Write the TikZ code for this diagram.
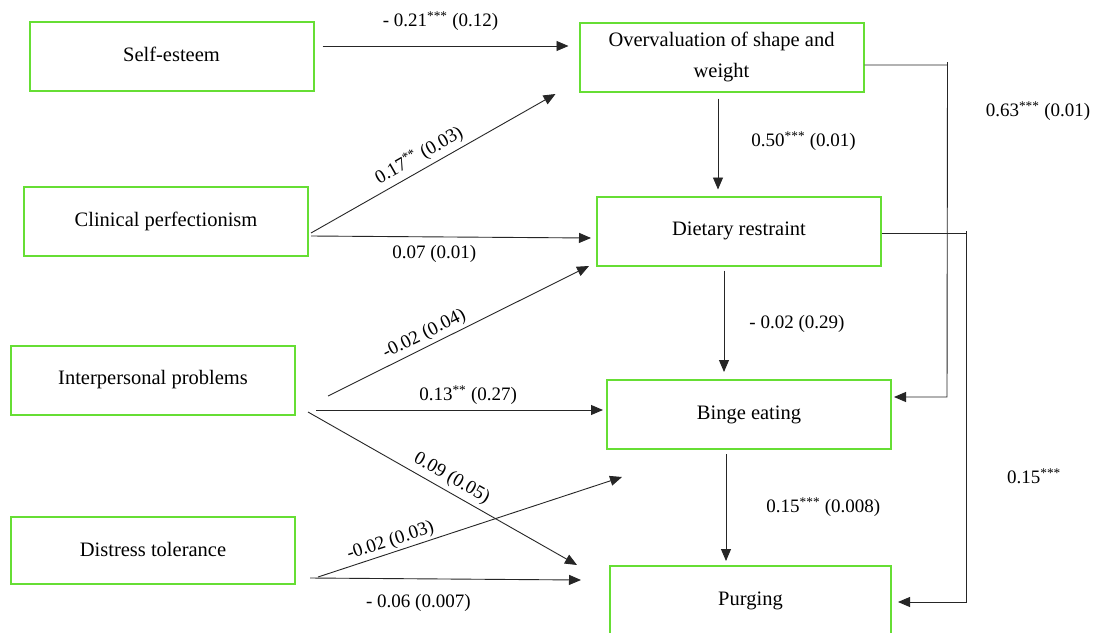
\documentclass[tikz,border=0pt]{standalone}
\usepackage{fontspec}
\setmainfont{Liberation Serif}
\usetikzlibrary{arrows.meta,calc}
\definecolor{boxgreen}{RGB}{102,222,52}
\begin{document}
\begin{tikzpicture}[x=1pt,y=-1pt,
  box/.style={draw=boxgreen, line width=2pt, minimum width=284pt, minimum height=69pt, inner sep=0pt, font=\fontsize{20.5}{24}\selectfont, align=center},
  arr/.style={-{Triangle[length=12pt,width=10pt]}, line width=0.9pt, draw=black!85},
  lbl/.style={font=\fontsize{19}{22}\selectfont, inner sep=1pt}]
\useasboundingbox (0,0) rectangle (1094,632);
\fill[white] (0,0) rectangle (1094,632);
% boxes
\node[box] (se) at (171.5,56) {\raisebox{3pt}{Self-esteem}};
\node[box] (cp) at (166,221) {\raisebox{2pt}{Clinical perfectionism}};
\node[box] (ip) at (153,380) {\raisebox{2pt}{Interpersonal problems}};
\node[box, minimum height=67pt] (dt) at (153,550) {\raisebox{2pt}{Distress tolerance}};
\node[box, font=\fontsize{20.5}{31}\selectfont] (ov) at (721.5,57) {Overvaluation of shape and\\weight};
\node[box] (dr) at (739,231) {\raisebox{2pt}{Dietary restraint}};
\node[box] (be) at (749,414.5) {\raisebox{3pt}{Binge eating}};
\node[box, minimum width=281pt, minimum height=70pt] (pu) at (750.5,601) {\raisebox{2pt}{Purging}};
% free ends
\coordinate (dtend) at (622,477);
% arrows
\draw[arr] ([xshift=8pt,yshift=10pt]se.east) -- node[lbl, pos=0.48, above=14pt] {- 0.21\textsuperscript{***} (0.12)} ([xshift=-10pt,yshift=11pt]ov.west);
\draw[arr] ([xshift=2pt,yshift=-12pt]cp.east) -- node[lbl, pos=0.47, sloped, above=3pt] {0.17\textsuperscript{**} (0.03)} ([xshift=-23pt,yshift=-37pt]ov.west);
\draw[arr] ([xshift=2pt,yshift=-15pt]cp.east) -- node[lbl, pos=0.44, below=7pt] {0.07 (0.01)} ([xshift=-5pt,yshift=-7pt]dr.west);
\draw[arr] ([xshift=-3.5pt,yshift=-6pt]ov.south) -- node[lbl, pos=0.47, anchor=west, xshift=32pt] {0.50\textsuperscript{***} (0.01)} ([xshift=-21pt,yshift=6pt]dr.north);
\draw[arr] ([yshift=-8pt]ov.east) -- ++(83,0) -- ($(be.east)+(55,-17.5)$) -- ([xshift=2pt,yshift=17.5pt]be.east);
\draw[line width=0.9pt, draw=black!85] ([xshift=83pt,yshift=-8pt]ov.east) -- ++(0,-3);
\node[lbl] (l63) at (1038,111) {0.63\textsuperscript{***} (0.01)};
\draw[arr] ([yshift=-2pt]dr.east) -- ++(84,0) -- ($(pu.east)+(74,1)$) -- ([xshift=6pt,yshift=-1pt]pu.east);
\draw[line width=0.9pt, draw=black!85] ([xshift=84pt,yshift=-2pt]dr.east) -- ++(0,-2);
\node[lbl] (l15) at (1034,476) {0.15\textsuperscript{***}};
\draw[arr] ([xshift=-15pt,yshift=-4pt]dr.south) -- node[lbl, pos=0.53, anchor=west, xshift=24pt] {- 0.02 (0.29)} ([xshift=-25pt,yshift=7pt]be.north);
\draw[arr] ([xshift=32pt,yshift=-16pt]ip.east) -- node[lbl, pos=0.39, sloped, above=2pt] {-0.02 (0.04)} ([xshift=-7pt,yshift=-35pt]dr.west);
\draw[arr] ([xshift=20pt,yshift=-30pt]ip.east) -- node[lbl, pos=0.53, above=4pt] {0.13\textsuperscript{**} (0.27)} ([xshift=-3pt,yshift=4.5pt]be.west);
\draw[arr] ([xshift=12pt,yshift=-32pt]ip.east) -- node[lbl, pos=0.51, sloped, above=3pt] {0.09 (0.05)} ([xshift=-32pt,yshift=36pt]pu.west);
\draw[arr] ([xshift=22pt,yshift=-27pt]dt.east) -- node[lbl, pos=0.25, sloped, above=1pt] {-0.02 (0.03)} (dtend);
\draw[arr] ([xshift=14pt,yshift=-28pt]dt.east) -- node[lbl, pos=0.4, below=14pt] {- 0.06 (0.007)} ([xshift=-28pt,yshift=21pt]pu.west);
\draw[arr] ([xshift=-23pt,yshift=-4pt]be.south) -- node[lbl, pos=0.5, anchor=west, xshift=39pt] {0.15\textsuperscript{***} (0.008)} ([xshift=-24.5pt,yshift=4pt]pu.north);
\end{tikzpicture}
\end{document}
